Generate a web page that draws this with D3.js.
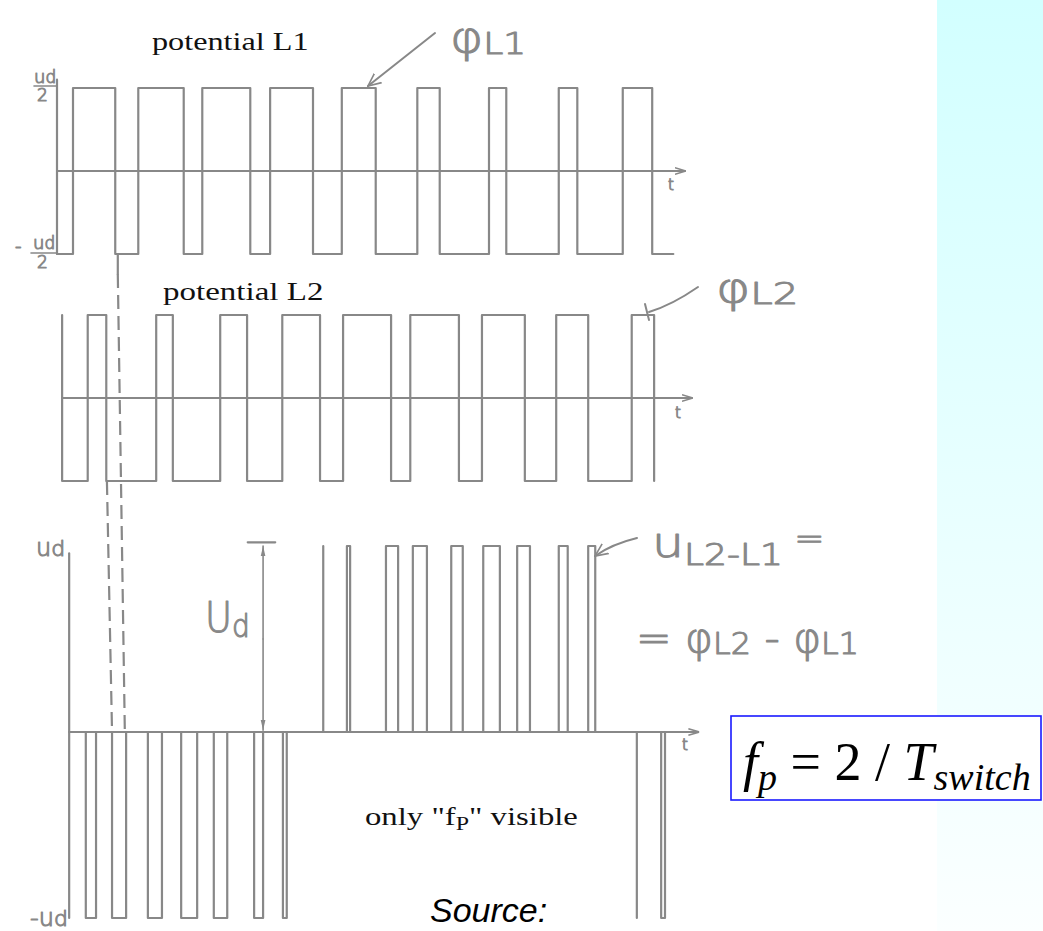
<!DOCTYPE html>
<html><head><meta charset="utf-8">
<script src="https://cdn.jsdelivr.net/npm/d3@7"></script>
<style>html,body{margin:0;padding:0;background:#fff;} svg{display:block}</style>
</head><body>
<svg id="chart" width="1043" height="931"></svg>
<script>
// ---- switching data (time in arbitrary units, 0 = start of sketch) ----
// leg potential L1: starts at -Ud/2, toggles at every edge
const l1Edges = [0.25, 0.91, 1.27, 1.98, 2.27, 3.02, 3.33, 4.00, 4.45, 4.98,
                 5.63, 5.98, 6.75, 7.02, 7.84, 8.13, 8.84, 9.30];
const l1Span = [0, 9.63];
const l1StartLevel = -1;
// leg potential L2: starts at +Ud/2, toggles at every edge
const l2Edges = [0.08, 0.48, 0.77, 1.55, 1.81, 2.55, 2.97, 3.52, 4.11, 4.47,
                 5.22, 5.52, 6.28, 6.64, 7.31, 7.80, 8.30, 8.98, 9.33];
const l2Span = [0.08, 9.33];
const l2StartLevel = 1;
// line-to-line voltage u(L2-L1): pulses to -Ud and to +Ud
const negPulses = [[0.45, 0.61], [0.86, 1.08], [1.42, 1.64], [1.94, 2.19], [2.45, 2.66],
                   [3.08, 3.22], [3.53, 3.59], [9.06, 9.06], [9.44, 9.50]];
const posPulses = [[4.16, 4.16], [4.53, 4.58], [5.14, 5.33], [5.56, 5.78], [6.16, 6.34],
                   [6.66, 6.92], [7.19, 7.39], [7.84, 7.98], [8.30, 8.41]];
// time axes of the three traces [start, end]
const l1Axis = [0, 9.81];
const l2Axis = [0.08, 9.92];
const uAxis = [0.19, 10.02];
// dashed guides linking switching instants to the line voltage
const guides = [{from: 0.95, to: 1.06, fromTrace: "l1"}, {from: 0.78, to: 0.86, fromTrace: "l2"}];

const svg = d3.select("#chart");
const ink = "#888";
const hand = "'DejaVu Sans', sans-serif";

// background band on the right
const defs = svg.append("defs");
const grad = defs.append("linearGradient").attr("id", "band").attr("x1", 0).attr("y1", 0).attr("x2", 0).attr("y2", 1);
grad.append("stop").attr("offset", "0%").attr("stop-color", "#d2ffff");
grad.append("stop").attr("offset", "100%").attr("stop-color", "#fbffff");
svg.append("rect").attr("x", 937).attr("y", 0).attr("width", 106).attr("height", 931).attr("fill", "url(#band)");

// markers
defs.append("marker").attr("id", "tArrow").attr("viewBox", "0 -5 10 10").attr("refX", 9).attr("refY", 0)
  .attr("markerWidth", 5).attr("markerHeight", 5).attr("orient", "auto").attr("markerUnits", "strokeWidth")
  .append("path").attr("d", "M0,-3L10,0L0,3").attr("fill", "none").attr("stroke", ink).attr("stroke-width", 1.5);
defs.append("marker").attr("id", "openArrow").attr("viewBox", "0 -6 12 12").attr("refX", 11).attr("refY", 0)
  .attr("markerWidth", 7).attr("markerHeight", 7).attr("orient", "auto").attr("markerUnits", "strokeWidth")
  .append("path").attr("d", "M0,-5L11,0L0,5").attr("fill", "none").attr("stroke", ink).attr("stroke-width", 1.4);
defs.append("marker").attr("id", "dimArrow").attr("viewBox", "0 -4 14 8").attr("refX", 13).attr("refY", 0)
  .attr("markerWidth", 7).attr("markerHeight", 4).attr("orient", "auto").attr("markerUnits", "strokeWidth")
  .append("path").attr("d", "M0,-3L13,0L0,3Z").attr("fill", ink);

// scales
const x = d3.scaleLinear().domain([0, 10]).range([57, 697]);
const yL1 = d3.scaleLinear().domain([-1, 1]).range([254, 88]);
const yL2 = d3.scaleLinear().domain([-1, 1]).range([481, 315]);
const yU = d3.scaleLinear().domain([-1, 1]).range([918, 546]);

const line = d3.line().x(d => x(d[0])).y(d => d[1]);
const stroke = sel => sel.attr("fill", "none").attr("stroke", ink).attr("stroke-width", 2.2)
  .attr("stroke-linejoin", "round").attr("stroke-linecap", "round");

function stepPoints(edges, span, start, y) {
  const pts = [[span[0], y(start)]];
  let lvl = start;
  edges.forEach(e => { pts.push([e, y(lvl)]); lvl = -lvl; pts.push([e, y(lvl)]); });
  pts.push([span[1], y(lvl)]);
  return pts;
}

// ---- trace 1: potential L1 ----
const g1 = svg.append("g");
g1.append("path").attr("d", line([[0, yL1(1.1)], [0, yL1(-1)]])).call(stroke);
g1.append("path").attr("d", line([[l1Axis[0], yL1(0)], [l1Axis[1], yL1(0)]])).call(stroke).attr("marker-end", "url(#tArrow)");
g1.append("path").attr("d", line(stepPoints(l1Edges, l1Span, l1StartLevel, yL1))).call(stroke);

// ---- trace 2: potential L2 ----
const g2 = svg.append("g");
g2.append("path").attr("d", line([[l2Axis[0], yL2(0)], [l2Axis[1], yL2(0)]])).call(stroke).attr("marker-end", "url(#tArrow)");
g2.append("path").attr("d", line(stepPoints(l2Edges, l2Span, l2StartLevel, yL2))).call(stroke);

// ---- trace 3: line-to-line voltage ----
const g3 = svg.append("g");
g3.append("path").attr("d", line([[uAxis[0], yU(0.96)], [uAxis[0], yU(-1)]])).call(stroke);
g3.append("path").attr("d", line([[uAxis[0], yU(0)], [uAxis[1], yU(0)]])).call(stroke).attr("marker-end", "url(#tArrow)");
const pulse = (p, s) => line([[p[0], yU(0)], [p[0], yU(s)], [p[1], yU(s)], [p[1], yU(0)]]);
g3.selectAll(".neg").data(negPulses).join("path").attr("d", d => pulse(d, -1)).call(stroke);
g3.selectAll(".pos").data(posPulses).join("path").attr("d", d => pulse(d, 1)).call(stroke);

// dashed guides
guides.forEach(gd => {
  const y0 = gd.fromTrace === "l1" ? yL1(-1) : yL2(-1);
  if (gd.fromTrace === "l1") svg.append("path").attr("d", line([[gd.from, y0], [gd.from, y0 + 20]])).call(stroke);
  svg.append("path").attr("d", line([[gd.from, gd.fromTrace === "l1" ? y0 + 20 : y0], [gd.to, yU(0)]]))
    .call(stroke).attr("stroke-dasharray", "14,7").attr("stroke-linecap", "butt");
});

// dimension arrow Ud
const dimX = x(3.22);
svg.append("path").attr("d", `M${x(2.98)},${yU(1.02)}H${x(3.41)}`).call(stroke);
svg.append("path").attr("d", `M${dimX},${yU(0.5)}V${yU(1.0)}`).call(stroke).attr("stroke-width", 1.6).attr("marker-end", "url(#dimArrow)");
svg.append("path").attr("d", `M${dimX},${yU(0.5)}V${yU(0.01)}`).call(stroke).attr("stroke-width", 1.6).attr("marker-end", "url(#dimArrow)");

// callout arrows
svg.append("path").attr("d", "M435,33L368,86").call(stroke).attr("stroke-width", 2).attr("marker-end", "url(#openArrow)");
svg.append("path").attr("d", "M698,287Q672,305 649,312").call(stroke).attr("stroke-width", 2);
svg.append("path").attr("d", "M645,304L649,320").call(stroke).attr("stroke-width", 2);
svg.append("path").attr("d", "M637,538Q612,544 595,556").call(stroke).attr("stroke-width", 2).attr("marker-end", "url(#openArrow)");

// ---- printed labels ----
const serif = "'Liberation Serif', 'Times New Roman', serif";
function printed(txt, tx, ty, sx) {
  return svg.append("text").attr("transform", `translate(${tx},${ty}) scale(${sx},1)`)
    .attr("font-family", serif).attr("font-size", 26).attr("fill", "#111").text(txt);
}
printed("potential L1", 152, 50, 1.24);
printed("potential L2", 163, 300, 1.27);
const only = svg.append("text").attr("transform", "translate(365,825) scale(1.26,1)")
  .attr("font-family", serif).attr("font-size", 26).attr("fill", "#111");
only.append("tspan").text("only \"f");
only.append("tspan").attr("font-size", 19).attr("dy", 5).text("P");
only.append("tspan").attr("dy", -5).text("\" visible");

svg.append("text").attr("x", 430).attr("y", 922).attr("font-family", "'Liberation Sans', Arial, sans-serif")
  .attr("font-style", "italic").attr("font-size", 34).attr("fill", "#000").text("Source:");

// ---- handwritten labels ----
function hw(x0, y0, size, parts, sx = 1) {
  const t = svg.append("text").attr("transform", `translate(${x0},${y0}) scale(${sx},1)`)
    .attr("font-family", hand).attr("font-weight", 200).attr("font-size", size)
    .attr("fill", ink).attr("stroke", ink).attr("stroke-width", 1.1).attr("stroke-linejoin", "round");
  parts.forEach(p => t.append("tspan").attr("font-size", p.s || size).attr("dy", p.dy || 0).text(p.t));
  return t;
}
hw(450, 52, 42, [{t: "φ"}, {t: "L1", s: 30, dy: 2}], 1.2);
hw(716, 302, 40, [{t: "φ"}, {t: "L2", s: 31, dy: 2}], 1.3);
hw(652, 557, 42, [{t: "u"}, {t: "L2-L1", s: 30, dy: 8}, {t: " =", s: 30, dy: -16}], 1.2);
hw(636, 652, 40, [{t: "= φ"}, {t: "L2", s: 30, dy: 2}, {t: " - φ", dy: -2}, {t: "L1", s: 30, dy: 2}], 1.06);
hw(205, 632, 42, [{t: "U"}, {t: "d", s: 32, dy: 5}], 0.88);
hw(36, 556, 24, [{t: "u"}, {t: "d", s: 22}]);
hw(30, 926, 24, [{t: "-u"}, {t: "d", s: 22}]);
// ±Ud/2 fractions
hw(34, 83, 18, [{t: "u"}, {t: "d", s: 17}]);
svg.append("path").attr("d", "M34,86H57").call(stroke).attr("stroke-width", 1.6);
hw(37, 101, 17, [{t: "2"}]);
hw(15, 252, 18, [{t: "-"}]);
hw(33, 249, 18, [{t: "u"}, {t: "d", s: 17}]);
svg.append("path").attr("d", "M31,253H57").call(stroke).attr("stroke-width", 1.6);
hw(37, 268, 17, [{t: "2"}]);
// time axis letters
hw(668, 190, 15, [{t: "t"}]);
hw(675, 418, 15, [{t: "t"}]);
hw(682, 750, 15, [{t: "t"}]);

// ---- formula box ----
svg.append("rect").attr("x", 731).attr("y", 716).attr("width", 310).attr("height", 84)
  .attr("fill", "#fff").attr("stroke", "#1a1aff").attr("stroke-width", 1.6);
const f = svg.append("text").attr("x", 743).attr("y", 780).attr("font-family", serif)
  .attr("font-size", 54).attr("fill", "#000");
f.append("tspan").attr("font-style", "italic").text("f");
f.append("tspan").attr("font-style", "italic").attr("font-size", 38).attr("dy", 10).text("p");
f.append("tspan").attr("dy", -10).text(" = 2 / ");
f.append("tspan").attr("font-style", "italic").text("T");
f.append("tspan").attr("font-style", "italic").attr("font-size", 38).attr("dy", 10).text("switch");
</script>
</body></html>
